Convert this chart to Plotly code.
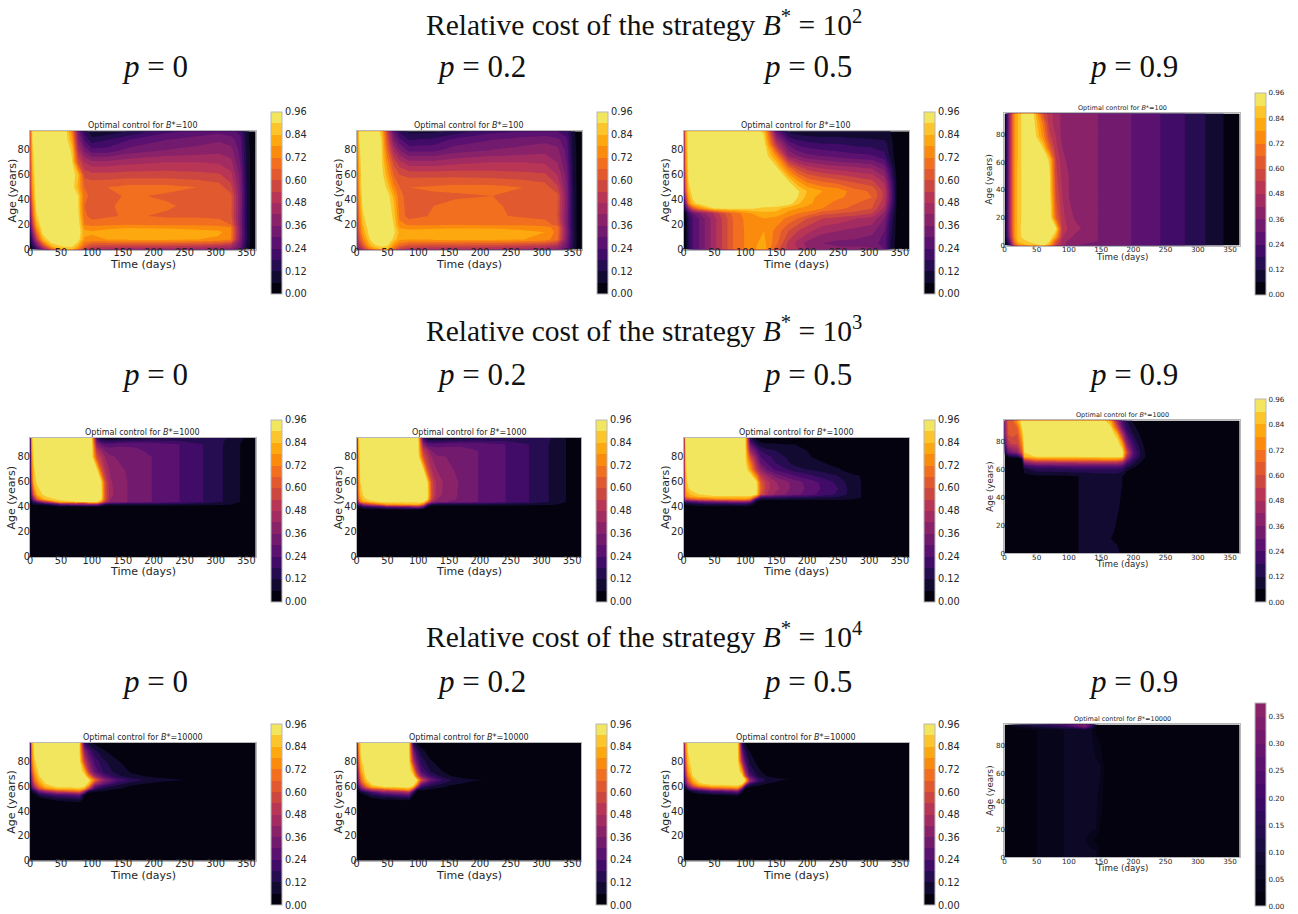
import plotly.graph_objects as go

# Reference values, hundredths of the control. Rows run from the youngest age up.
T_1_1 = [0,4,10,20,35,55,68,78,88,100,125,160,220,270,305,325,340,350,358,365]
A_1_1 = [0,3,8,14,18,20,27,35,43,50,60,70,80,88,95]
Z_1_1 = [
[3,8,15,35,65,84,86,72,56,48,46,44,44,42,40,38,28,10,3,0],
[5,15,30,55,85,92,92,82,66,58,57,56,56,54,52,48,32,12,3,0],
[8,25,50,82,97,98,98,94,77,76,78,79,79,78,76,72,36,14,4,0],
[14,38,66,92,98,98,98,96,80,79,81,83,83,81,80,73,38,14,4,0],
[18,48,76,95,98,98,98,96,76,74,76,77,76,75,74,72,37,13,4,0],
[22,52,80,97,98,98,98,95,72,70,71,72,71,71,70,66,36,13,4,0],
[30,62,88,98,98,98,98,92,68,63,65,67,65,65,64,61,36,13,4,0],
[38,68,92,98,98,98,96,90,66,63,65,68,67,64,64,62,37,13,4,0],
[44,75,95,98,98,98,95,90,68,64,64,67,65,65,65,62,37,13,4,0],
[48,78,96,98,98,98,94,82,66,65,66,68,68,66,63,56,36,13,4,0],
[52,82,97,98,98,98,95,85,58,56,56,57,57,56,55,50,34,12,4,0],
[55,85,97,98,98,97,91,60,48,44,44,46,48,48,47,44,30,12,4,0],
[58,88,98,98,98,98,88,48,34,26,26,32,36,38,40,38,28,11,4,0],
[60,90,98,98,98,98,80,40,24,14,18,24,30,33,35,33,26,10,3,0],
[62,92,98,98,98,98,74,34,16,8,8,12,22,26,28,26,22,9,3,0],
]
T_1_2 = [0,4,10,20,28,40,50,60,70,85,125,160,220,270,305,325,340,350,358,365]
A_1_2 = [0,3,8,14,18,20,27,35,43,50,60,70,80,88,95]
Z_1_2 = [
[30,40,50,68,76,84,84,66,54,50,48,48,47,45,43,40,28,12,3,0],
[38,50,62,80,88,92,90,76,66,60,58,58,57,55,53,48,32,14,4,0],
[42,58,72,88,96,98,98,88,79,78,79,79,79,78,75,68,36,15,4,0],
[44,64,80,92,97,98,98,92,82,81,82,83,83,80,78,70,38,15,4,0],
[42,66,82,94,98,98,98,91,77,75,76,76,76,75,74,70,37,14,4,0],
[40,68,84,96,98,98,98,90,74,71,71,72,71,71,69,64,36,14,4,0],
[44,72,88,97,98,98,96,88,70,63,67,68,67,65,64,60,36,14,4,0],
[48,75,92,98,98,98,95,86,68,64,66,68,67,64,64,61,37,14,4,0],
[52,78,95,98,98,98,94,82,68,63,65,65,66,66,65,62,37,14,4,0],
[54,80,96,98,98,96,88,74,66,66,67,68,68,66,63,55,36,13,4,0],
[56,82,97,98,98,94,80,66,60,58,58,58,57,56,55,48,34,12,4,0],
[58,85,97,98,98,92,74,58,50,44,44,46,48,48,47,42,30,12,4,0],
[60,88,97,98,98,91,66,46,36,28,28,33,36,38,40,38,28,11,4,0],
[62,90,98,98,98,90,60,36,26,18,20,26,30,33,34,32,26,10,3,0],
[64,92,98,98,96,88,54,28,16,10,10,14,22,24,25,24,20,9,3,0],
]
T_1_3 = [0,3,8,15,25,50,80,110,130,150,170,185,200,225,250,280,305,325,335,345,365]
A_1_3 = [0,5,15,25,29,33,37,42,47,55,65,75,85,95]
Z_1_3 = [
[0,3,16,24,30,46,66,76,82,62,52,48,42,40,38,38,38,30,12,3,0],
[0,3,16,24,30,46,66,76,80,68,52,46,40,36,34,34,32,28,12,3,0],
[0,3,16,24,30,46,66,76,78,70,60,54,50,44,42,40,38,30,14,4,0],
[0,3,16,24,30,46,66,77,78,76,70,66,60,54,52,48,46,36,18,4,0],
[0,6,20,30,36,50,68,78,82,82,76,72,70,62,60,58,54,40,20,4,0],
[4,20,40,60,74,90,92,91,88,87,80,78,76,72,68,63,60,46,24,5,0],
[8,35,70,88,92,97,97,97,97,96,94,85,80,74,70,66,62,50,28,5,0],
[12,50,80,91,97,98,98,98,98,98,96,90,82,74,73,70,66,52,30,5,0],
[15,60,85,95,98,98,98,98,98,98,96,91,84,78,76,68,65,52,30,5,0],
[18,65,90,98,98,98,98,98,98,96,90,78,70,65,62,58,55,46,26,5,0],
[20,70,93,98,98,98,98,98,98,93,70,58,52,48,46,44,42,34,18,3,0],
[22,72,94,98,98,98,98,98,97,76,42,36,32,30,28,26,25,20,10,2,0],
[24,75,96,98,98,98,98,98,94,50,28,22,20,18,18,16,15,14,9,1,0],
[26,78,97,98,98,98,98,97,88,30,10,8,7,7,7,7,7,7,6,1,0],
]
T_1_4 = [0,3,8,15,22,30,45,60,70,80,90,100,110,145,197,242,280,312,340,365]
A_1_4 = [0,3,6,12,20,35,50,62,70,78,88,95]
Z_1_4 = [
[0,3,16,60,76,82,86,92,80,56,44,38,36,36,30,24,18,12,6,0],
[0,8,30,70,86,88,93,97,90,62,46,40,38,36,30,24,18,12,6,0],
[0,14,40,74,88,92,98,98,97,78,48,44,40,36,30,24,18,12,6,0],
[0,16,44,76,88,93,98,98,98,93,52,47,44,36,30,24,18,12,6,0],
[0,16,44,76,88,92,98,98,98,66,50,45,41,36,30,24,18,12,6,0],
[0,16,44,76,88,92,98,98,94,60,48,42,40,36,30,24,18,12,6,0],
[0,16,44,76,88,92,98,98,92,56,46,42,39,36,30,24,18,12,6,0],
[0,16,44,76,86,94,98,98,88,54,44,40,39,36,30,24,18,12,6,0],
[0,16,44,76,86,94,98,90,66,50,42,40,39,36,30,24,18,12,6,0],
[0,16,44,76,86,94,96,76,56,48,40,39,38,36,30,24,18,12,6,0],
[0,16,44,76,86,94,93,70,50,46,40,39,38,36,30,24,18,12,6,0],
[0,16,44,76,86,94,91,60,50,46,40,38,38,36,30,24,18,12,6,0],
]
T_2_1 = [0,3,6,12,25,50,100,108,115,122,130,145,170,197,242,280,312,340,365]
A_2_1 = [0,38,40,42,44,46,50,60,70,80,85,90,95]
Z_2_1 = [
[0,0,0,0,0,0,0,0,0,0,0,0,0,0,0,0,0,0,0],
[0,0,0,0,0,0,0,0,0,0,0,0,0,0,0,0,0,0,0],
[0,0,0,0,0,1,1,2,3,3,3,3,3,3,3,2,2,1,0],
[0,4,8,8,12,30,40,40,25,12,10,10,10,10,9,8,7,5,0],
[0,8,20,30,50,85,94,94,75,50,40,38,34,30,24,18,12,6,0],
[0,25,40,65,85,92,98,98,92,60,42,38,34,30,24,18,12,6,0],
[0,40,65,85,93,98,98,98,95,60,44,38,34,30,24,18,12,6,0],
[0,62,85,92,98,98,98,98,92,58,43,38,34,30,24,18,12,6,0],
[0,70,88,96,98,98,98,93,62,48,40,37,34,30,24,18,12,6,0],
[0,75,92,98,98,98,94,60,50,42,37,35,33,30,24,18,12,6,0],
[0,80,92,98,98,98,94,52,42,36,33,32,31,29,24,18,12,6,0],
[0,82,94,98,98,98,93,38,30,26,27,29,29,28,24,18,12,6,0],
[0,85,95,98,98,98,90,22,8,6,5,7,10,12,13,14,13,8,0],
]
T_2_2 = [0,3,6,12,25,50,100,108,115,122,130,145,170,197,242,280,312,340,365]
A_2_2 = [0,36,38,40,42,44,46,50,60,70,80,85,90,95]
Z_2_2 = [
[0,0,0,0,0,0,0,0,0,0,0,0,0,0,0,0,0,0,0],
[0,0,0,0,0,0,0,0,0,0,0,0,0,0,0,0,0,0,0],
[0,2,2,4,5,6,7,5,1,0,0,0,0,0,0,0,0,0,0],
[0,8,10,14,20,30,40,30,4,2,2,2,2,3,3,3,3,3,0],
[0,30,30,50,60,80,85,70,30,12,10,10,10,10,9,8,7,5,0],
[0,50,70,80,88,92,92,92,70,45,38,36,34,30,24,18,12,6,0],
[0,65,80,88,93,98,98,98,90,55,42,38,35,30,24,18,12,6,0],
[0,70,86,92,97,98,98,98,94,60,46,39,35,30,24,18,12,6,0],
[0,75,90,96,98,98,98,98,90,58,46,40,35,30,24,18,12,6,0],
[0,78,92,98,98,98,98,92,60,48,42,38,34,30,24,18,12,6,0],
[0,80,94,98,98,98,95,62,50,42,37,36,34,30,24,18,12,6,0],
[0,82,95,98,98,98,92,54,44,36,33,33,32,30,24,18,12,6,0],
[0,85,96,98,98,98,92,40,28,26,27,28,29,28,24,18,12,6,0],
[0,88,97,98,98,98,90,20,8,6,6,7,10,12,13,14,13,6,0],
]
T_2_3 = [0,3,6,12,25,50,100,108,118,125,135,150,165,180,200,222,250,270,285,300,365]
A_2_3 = [0,40,42,44,46,48,50,55,60,65,70,75,80,85,90,95]
Z_2_3 = [
[0,0,0,0,0,0,0,0,0,0,0,0,0,0,0,0,0,0,0,0,0],
[0,2,3,3,4,4,5,4,1,0,0,0,0,0,0,0,0,0,0,0,0],
[0,6,7,8,10,12,14,10,3,0,0,0,0,0,0,0,0,0,0,0,0],
[0,24,20,24,30,34,38,32,6,3,3,3,3,3,3,3,3,3,2,0,0],
[0,55,55,60,66,72,75,68,16,8,7,7,7,7,7,7,7,6,5,0,0],
[0,70,75,80,84,88,88,88,62,26,24,22,20,18,16,14,12,10,7,1,0],
[0,74,80,85,90,93,93,93,92,60,48,40,36,32,28,22,17,10,7,1,0],
[0,76,88,93,97,98,98,98,93,66,50,44,38,34,29,24,18,10,7,1,0],
[0,78,90,96,98,98,98,98,92,62,50,42,38,33,28,23,16,9,7,1,0],
[0,80,92,97,98,98,98,96,72,52,42,33,28,24,20,16,12,8,6,1,0],
[0,82,94,98,98,98,96,80,52,40,30,22,19,15,12,10,7,2,1,0,0],
[0,84,95,98,98,98,93,72,46,30,24,18,14,10,8,7,3,0,0,0,0],
[0,85,96,98,98,98,92,60,38,24,20,16,12,9,7,4,0,0,0,0,0],
[0,87,96,98,98,98,92,44,28,18,14,12,9,7,6,1,0,0,0,0,0],
[0,89,97,98,98,98,91,30,14,8,7,7,6,6,3,0,0,0,0,0,0],
[0,90,97,98,98,98,91,14,4,2,1,0,0,0,0,0,0,0,0,0,0],
]
T_2_4 = [0,6,12,20,27,31,50,115,150,165,175,183,190,200,210,217,225,365]
A_2_4 = [0,6,10,15,35,50,55,57,60,62,65,67,69,72,78,85,90,95]
Z_2_4 = [
[0,0,0,0,0,0,3,6,8,8,7,5,2,0,0,0,0,0],
[0,0,0,0,0,0,3,6,8,7,6,4,1,0,0,0,0,0],
[0,0,0,0,0,0,3,6,8,6,4,2,1,0,0,0,0,0],
[0,0,0,0,0,0,3,6,8,7,5,3,1,0,0,0,0,0],
[0,0,0,0,0,0,3,6,8,8,7,5,2,0,0,0,0,0],
[0,0,0,0,0,0,3,6,8,8,8,6,2,0,0,0,0,0],
[0,0,0,0,0,0,5,6,8,8,8,6,2,0,0,0,0,0],
[0,0,0,0,0,6,9,10,12,12,12,10,4,1,0,0,0,0],
[0,0,0,0,0,10,16,18,18,18,18,16,8,4,0,0,0,0],
[0,0,0,0,0,18,24,26,26,26,26,24,14,8,3,0,0,0],
[0,0,0,0,0,40,50,52,52,52,52,46,26,14,7,3,0,0],
[0,0,0,0,2,60,72,74,76,76,76,70,38,18,9,5,1,0],
[2,8,10,12,30,85,91,91,91,91,91,92,48,24,12,7,2,0],
[10,30,35,40,60,90,96,98,98,98,98,96,60,26,13,7,1,0],
[25,50,55,55,72,97,98,98,98,98,98,80,40,20,10,5,1,0],
[35,60,62,60,82,98,98,98,98,98,84,50,25,12,6,2,0,0],
[38,62,62,66,90,98,98,98,98,92,60,30,16,8,3,0,0,0],
[40,65,66,80,95,98,98,98,98,80,42,22,12,5,0,0,0,0],
]
T_3_1 = [0,3,7,15,25,45,80,88,96,105,120,140,165,185,210,250,365]
A_3_1 = [0,45,47,50,53,56,58,60,62,65,68,72,80,88,95]
Z_3_1 = [
[0,0,0,0,0,0,0,0,0,0,0,0,0,0,0,0,0],
[0,0,0,0,0,0,0,0,0,0,0,0,0,0,0,0,0],
[0,0,0,0,0,3,6,1,0,0,0,0,0,0,0,0,0],
[0,0,0,3,6,10,14,4,0,0,0,0,0,0,0,0,0],
[0,0,3,12,16,24,30,6,3,0,0,0,0,0,0,0,0],
[0,8,14,35,44,60,70,46,8,7,6,0,0,0,0,0,0],
[0,20,35,60,75,85,88,80,50,20,10,7,3,0,0,0,0],
[0,30,50,70,85,93,93,92,70,30,18,10,5,3,1,0,0],
[0,36,58,78,90,97,98,97,85,48,30,16,9,6,3,0,0],
[0,45,68,85,94,98,98,98,91,68,40,25,16,12,9,6,0],
[0,50,72,90,97,98,98,96,72,45,26,14,8,6,4,1,0],
[0,60,80,93,98,98,98,84,48,28,16,10,5,2,0,0,0],
[0,70,88,96,98,98,94,56,34,22,13,7,2,0,0,0,0],
[0,75,92,98,98,98,90,40,24,14,7,2,0,0,0,0,0],
[0,80,93,98,98,98,91,18,8,4,1,0,0,0,0,0,0],
]
T_3_2 = [0,3,7,15,25,45,85,92,98,105,120,140,155,172,190,212,365]
A_3_2 = [0,47,49,52,55,57,59,61,63,65,68,72,80,88,95]
Z_3_2 = [
[0,0,0,0,0,0,0,0,0,0,0,0,0,0,0,0,0],
[0,0,0,0,0,0,0,0,0,0,0,0,0,0,0,0,0],
[0,0,0,0,3,5,7,1,0,0,0,0,0,0,0,0,0],
[0,0,0,4,10,14,22,4,0,0,0,0,0,0,0,0,0],
[0,3,8,14,22,36,46,16,3,0,0,0,0,0,0,0,0],
[0,8,24,36,50,60,76,46,8,7,5,3,1,0,0,0,0],
[0,20,40,60,78,88,90,80,40,16,9,6,3,1,0,0,0],
[0,30,50,74,90,96,97,94,70,28,16,9,6,4,2,0,0],
[0,36,60,82,94,98,98,97,85,45,22,14,9,7,4,1,0],
[0,40,66,88,96,98,98,98,91,62,32,18,12,9,7,6,0],
[0,44,72,92,98,98,98,94,66,38,20,10,6,3,1,0,0],
[0,50,80,94,98,98,98,80,46,24,12,6,2,0,0,0,0],
[0,62,88,96,98,98,93,50,28,16,7,2,0,0,0,0,0],
[0,70,92,98,98,98,90,34,18,9,2,0,0,0,0,0,0],
[0,75,93,98,98,98,91,14,5,2,0,0,0,0,0,0,0],
]
T_3_3 = [0,3,7,15,25,45,88,95,100,107,120,135,150,170,365]
A_3_3 = [0,50,53,56,58,60,62,64,66,68,72,80,88,95]
Z_3_3 = [
[0,0,0,0,0,0,0,0,0,0,0,0,0,0,0],
[0,0,0,0,0,0,0,0,0,0,0,0,0,0,0],
[0,0,0,2,4,6,8,1,0,0,0,0,0,0,0],
[0,0,4,10,16,24,34,10,2,0,0,0,0,0,0],
[0,6,20,34,44,60,70,30,5,3,1,0,0,0,0],
[0,15,36,58,75,84,88,70,20,8,5,3,1,0,0],
[0,28,48,72,88,94,95,92,60,20,10,6,3,1,0],
[0,34,58,80,92,98,98,97,88,45,20,10,7,2,0],
[0,38,62,86,95,98,98,98,88,40,18,9,7,6,0],
[0,42,70,90,97,98,98,94,60,28,12,6,3,0,0],
[0,48,78,93,98,98,98,78,42,18,8,3,0,0,0],
[0,60,86,96,98,98,92,46,24,10,4,0,0,0,0],
[0,68,90,98,98,98,90,30,14,6,1,0,0,0,0],
[0,72,92,98,98,98,91,14,5,1,0,0,0,0,0],
]
T_3_4 = [0,20,48,95,125,135,142,150,156,365]
A_3_4 = [0,5,12,20,40,65,85,91,93,95]
Z_3_4 = [
[0,1,2.4,5.2,5.5,5.3,5.1,1.5,0.5,0],
[0,1,2.4,5.2,5.5,5.3,5.1,1.5,0.5,0],
[0,1,2.4,5.2,5.1,3,1.5,1,0.5,0],
[0,1,2.4,5.2,5.5,5.3,5.1,1.5,0.5,0],
[0,1,2.4,5.2,5.5,5.5,5.3,4,1,0],
[0,1,2.4,5.2,5.5,5.5,5.4,5.1,2,0],
[0,1,2.4,5.2,5.5,5.3,4,1,0.5,0],
[0,1,2.4,5.2,5.5,5.1,2,0.5,0,0],
[0,4,8,14,30,14,3,0,0,0],
[0,10,16,26,37,26,5,0,0,0],
]

ROW_TITLES = ["Relative cost of the strategy <i>B</i><sup>*</sup> = 10<sup>2</sup>",
              "Relative cost of the strategy <i>B</i><sup>*</sup> = 10<sup>3</sup>",
              "Relative cost of the strategy <i>B</i><sup>*</sup> = 10<sup>4</sup>"]
P_LABELS = ["0", "0.2", "0.5", "0.9"]
BUDGETS = ["100", "1000", "10000"]

W, H = 1298, 914
ML, MR, MT, MB = 8, 8, 8, 8
# Plotly's colourbars widen the margins a little beyond ML..MB; the effective plot area is:
EL, ER, ET, EB = 11, 9, 7.2, 14
def fx(px):
    return (px - EL) / (W - EL - ER)
def fy(py):
    return 1 - (py - ET) / (H - ET - EB)

LEVELS = ["#03020e","#120a30","#260c51","#410b68","#5a116f","#721a6e","#8a226a","#a22b62",
          "#b93555","#cd4741","#e1592f","#f16f1f","#fb8b0c","#fda80e","#fbc52b","#f3e65f"]
LEVELS_LOW = ["#03020e","#07051a","#0d0826","#130a32","#1b0c41","#240c4f","#2f0a5b","#3a0963",
              "#450a69","#500d6c","#5b116e","#66156e","#72196e","#7d1d6c","#8a226a"]

def scale(levels):
    return [[i / (len(levels) - 1), c] for i, c in enumerate(levels)]

# pixel boxes: plot x0,x1,y0,y1 and colourbar x0,y0,y1
BOXES = {
 (0,0):(30,255.5,130.5,249,270.3,111.3,293.3),(0,1):(356.4,581.5,130.5,249,596.3,111.3,293.3),
 (0,2):(683,908.5,130.5,249,923.3,111.3,293.3),(0,3):(1003.7,1238.7,112.7,245,1254.3,91.7,294.3),
 (1,0):(30,255.5,437.7,556.7,270.3,418.7,601.3),(1,1):(356.4,581,437.7,556.7,596,418.7,601.3),
 (1,2):(683,908.5,437.7,556.7,923.3,418.7,601.3),(1,3):(1003.7,1238.7,420,552.7,1254.3,398.7,602),
 (2,0):(30,255.5,742.7,860.7,270.3,723.7,905.3),(2,1):(356.4,581,742.7,860.7,596,723.7,905.3),
 (2,2):(683,908.5,742.7,860.7,923.3,723.7,905.3),(2,3):(1003.7,1238.7,724.3,857,1254.3,703,906.3),
}
DATA = {(0,0):(T_1_1,A_1_1,Z_1_1),(0,1):(T_1_2,A_1_2,Z_1_2),(0,2):(T_1_3,A_1_3,Z_1_3),(0,3):(T_1_4,A_1_4,Z_1_4),
        (1,0):(T_2_1,A_2_1,Z_2_1),(1,1):(T_2_2,A_2_2,Z_2_2),(1,2):(T_2_3,A_2_3,Z_2_3),(1,3):(T_2_4,A_2_4,Z_2_4),
        (2,0):(T_3_1,A_3_1,Z_3_1),(2,1):(T_3_2,A_3_2,Z_3_2),(2,2):(T_3_3,A_3_3,Z_3_3),(2,3):(T_3_4,A_3_4,Z_3_4)}

SANS = "DejaVu Sans"
SERIF = "Liberation Serif"
FRAME = "#b8b8b8"
INK = "#262626"
fig = go.Figure()
annotations = []
layout = {}
n = 0
for (r, c), (x0, x1, y0, y1, cx, cy0, cy1) in BOXES.items():
    n += 1
    xs, ys, zs = DATA[(r, c)]
    low = (r, c) == (2, 3)
    small = c == 3
    tick_size = 7.2 if small else 9.8
    title_size = 8.7 if small else 11
    if low:
        contours = dict(start=0.025, end=0.35, size=0.025, coloring="fill", showlines=False)
        cs, dtick, zmax = scale(LEVELS_LOW), 0.05, 0.375
    else:
        contours = dict(start=0.06, end=0.90, size=0.06, coloring="fill", showlines=False)
        cs, dtick, zmax = scale(LEVELS), 0.12, 0.96
    fig.add_trace(go.Contour(
        x=xs, y=ys, z=[[v / 100 for v in row] for row in zs], zmin=0, zmax=zmax,
        contours=contours, colorscale=cs, line=dict(width=0, smoothing=0),
        hoverinfo="skip", xaxis=f"x{n}", yaxis=f"y{n}",
        colorbar=dict(
            x=fx(cx), xanchor="left", xpad=0, ypad=0, y=fy(cy1), yanchor="bottom",
            len=(cy1 - cy0) / (H - ET - EB), lenmode="fraction", thickness=10.5, thicknessmode="pixels",
            outlinecolor=FRAME, outlinewidth=1, ticks="", ticklen=0, tick0=0, dtick=dtick, tickformat=".2f",
            tickfont=dict(family=SANS, size=tick_size, color=INK),
        ),
    ))
    layout[f"xaxis{n}"] = dict(
        domain=[fx(x0), fx(x1)], range=[0, 365], anchor=f"y{n}", tickvals=[0,50,100,150,200,250,300,350],
        showgrid=False, zeroline=False, showline=True, mirror=True, linecolor=FRAME, linewidth=1, ticks="",
        ticklabelstandoff=-3 if small else -6, tickfont=dict(family=SANS, size=tick_size, color=INK),
    )
    layout[f"yaxis{n}"] = dict(
        domain=[fy(y1), fy(y0)], range=[0, 95], anchor=f"x{n}", tickvals=[0,20,40,60,80],
        showgrid=False, zeroline=False, showline=True, mirror=True, linecolor=FRAME, linewidth=1, ticks="",
        ticklabelstandoff=-3, tickfont=dict(family=SANS, size=tick_size, color=INK),
    )
    annotations.append(dict(
        text=f"Optimal control for <i>B</i>*={BUDGETS[r]}", xref="paper", yref="paper",
        x=fx((x0 + x1) / 2), y=fy(y0), xanchor="center", yanchor="bottom", yshift=-1, showarrow=False,
        font=dict(family=SANS, size=6.5 if small else 8, color=INK),
    ))
    annotations.append(dict(
        text="Time (days)", xref="paper", yref="paper", x=fx((x0 + x1) / 2),
        y=fy(y1 + (11 if small else 15)), xanchor="center", yanchor="middle", showarrow=False,
        font=dict(family=SANS, size=title_size, color=INK),
    ))
    annotations.append(dict(
        text="Age (years)", xref="paper", yref="paper", x=fx(x0 - (14.5 if small else 18)),
        y=fy((y0 + y1) / 2), xanchor="center", yanchor="middle", textangle=-90, showarrow=False,
        font=dict(family=SANS, size=title_size, color=INK),
    ))

ROW_Y = [22, 328, 635]
P_Y = [66, 374, 681]
P_X = [155, 481, 807, 1133]
for r in range(3):
    annotations.append(dict(
        text=ROW_TITLES[r], xref="paper", yref="paper", x=fx(643.5), y=fy(ROW_Y[r]),
        xanchor="center", yanchor="middle", showarrow=False,
        font=dict(family=SERIF, size=29.5, color="#111111"),
    ))
    for c in range(4):
        annotations.append(dict(
            text=f"<i>p</i> = {P_LABELS[c]}", xref="paper", yref="paper", x=fx(P_X[c]), y=fy(P_Y[r]),
            xanchor="center", yanchor="middle", showarrow=False,
            font=dict(family=SERIF, size=31, color="#111111"),
        ))

fig.update_layout(width=W, height=H, autosize=False, margin=dict(l=ML, r=MR, t=MT, b=MB, pad=0),
                  paper_bgcolor="white", plot_bgcolor="white", annotations=annotations, **layout)
fig.write_html("out.html", config=dict(displayModeBar=False),
               post_script="document.body.style.margin='0';document.body.style.overflow='hidden';")
